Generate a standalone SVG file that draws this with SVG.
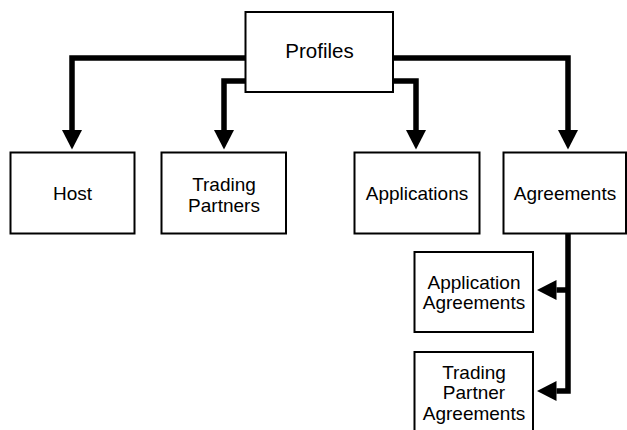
<svg xmlns="http://www.w3.org/2000/svg" width="627" height="430" viewBox="0 0 627 430">
<style>
.box{fill:#fff;stroke:#000;stroke-width:2}
.t{font-family:"Liberation Sans",Arial,sans-serif;font-size:19px;fill:#000;text-anchor:middle}
.big{font-size:20.5px}
.c{fill:none;stroke:#000;stroke-width:5.5;stroke-linejoin:miter}
</style>
<defs>
<marker id="ah" markerUnits="userSpaceOnUse" markerWidth="20" markerHeight="20" refX="0" refY="10" orient="auto" viewBox="0 0 20 20" overflow="visible">
<path d="M0,0 L19.5,10 L0,20 z" fill="#000"/>
</marker>
</defs>
<rect width="627" height="430" fill="#fff"/>
<g id="connectors">
<path class="c" d="M246,58 H72 V130" marker-end="url(#ah)"/>
<path class="c" d="M246,81 H224 V130" marker-end="url(#ah)"/>
<path class="c" d="M392,81 H416 V130" marker-end="url(#ah)"/>
<path class="c" d="M392,58 H568 V130" marker-end="url(#ah)"/>
<path class="c" d="M568,233 V391 H556.5" marker-end="url(#ah)"/>
<path class="c" d="M568,290 H556.5" marker-end="url(#ah)"/>
</g>
<g id="profiles">
<rect class="box" x="245.5" y="12" width="147.5" height="80"/>
<text class="t big" x="319.5" y="57.5">Profiles</text>
</g>
<g id="host">
<rect class="box" x="10.5" y="152.5" width="124" height="81"/>
<text class="t" x="72.5" y="200">Host</text>
</g>
<g id="trading-partners">
<rect class="box" x="161.5" y="152.5" width="124.5" height="81"/>
<text class="t" x="224" y="190.5">Trading</text>
<text class="t" x="224" y="211.5">Partners</text>
</g>
<g id="applications">
<rect class="box" x="354.5" y="152.5" width="125" height="81"/>
<text class="t" x="417" y="200">Applications</text>
</g>
<g id="agreements">
<rect class="box" x="503.5" y="152.5" width="122.5" height="81"/>
<text class="t" x="565" y="200">Agreements</text>
</g>
<g id="application-agreements">
<rect class="box" x="414.5" y="252" width="118.5" height="80"/>
<text class="t" x="474" y="288.5">Application</text>
<text class="t" x="474" y="308.5">Agreements</text>
</g>
<g id="trading-partner-agreements">
<rect class="box" x="414.5" y="352" width="118.5" height="90"/>
<text class="t" x="474" y="378.5">Trading</text>
<text class="t" x="474" y="398.5">Partner</text>
<text class="t" x="474" y="419.5">Agreements</text>
</g>
</svg>
